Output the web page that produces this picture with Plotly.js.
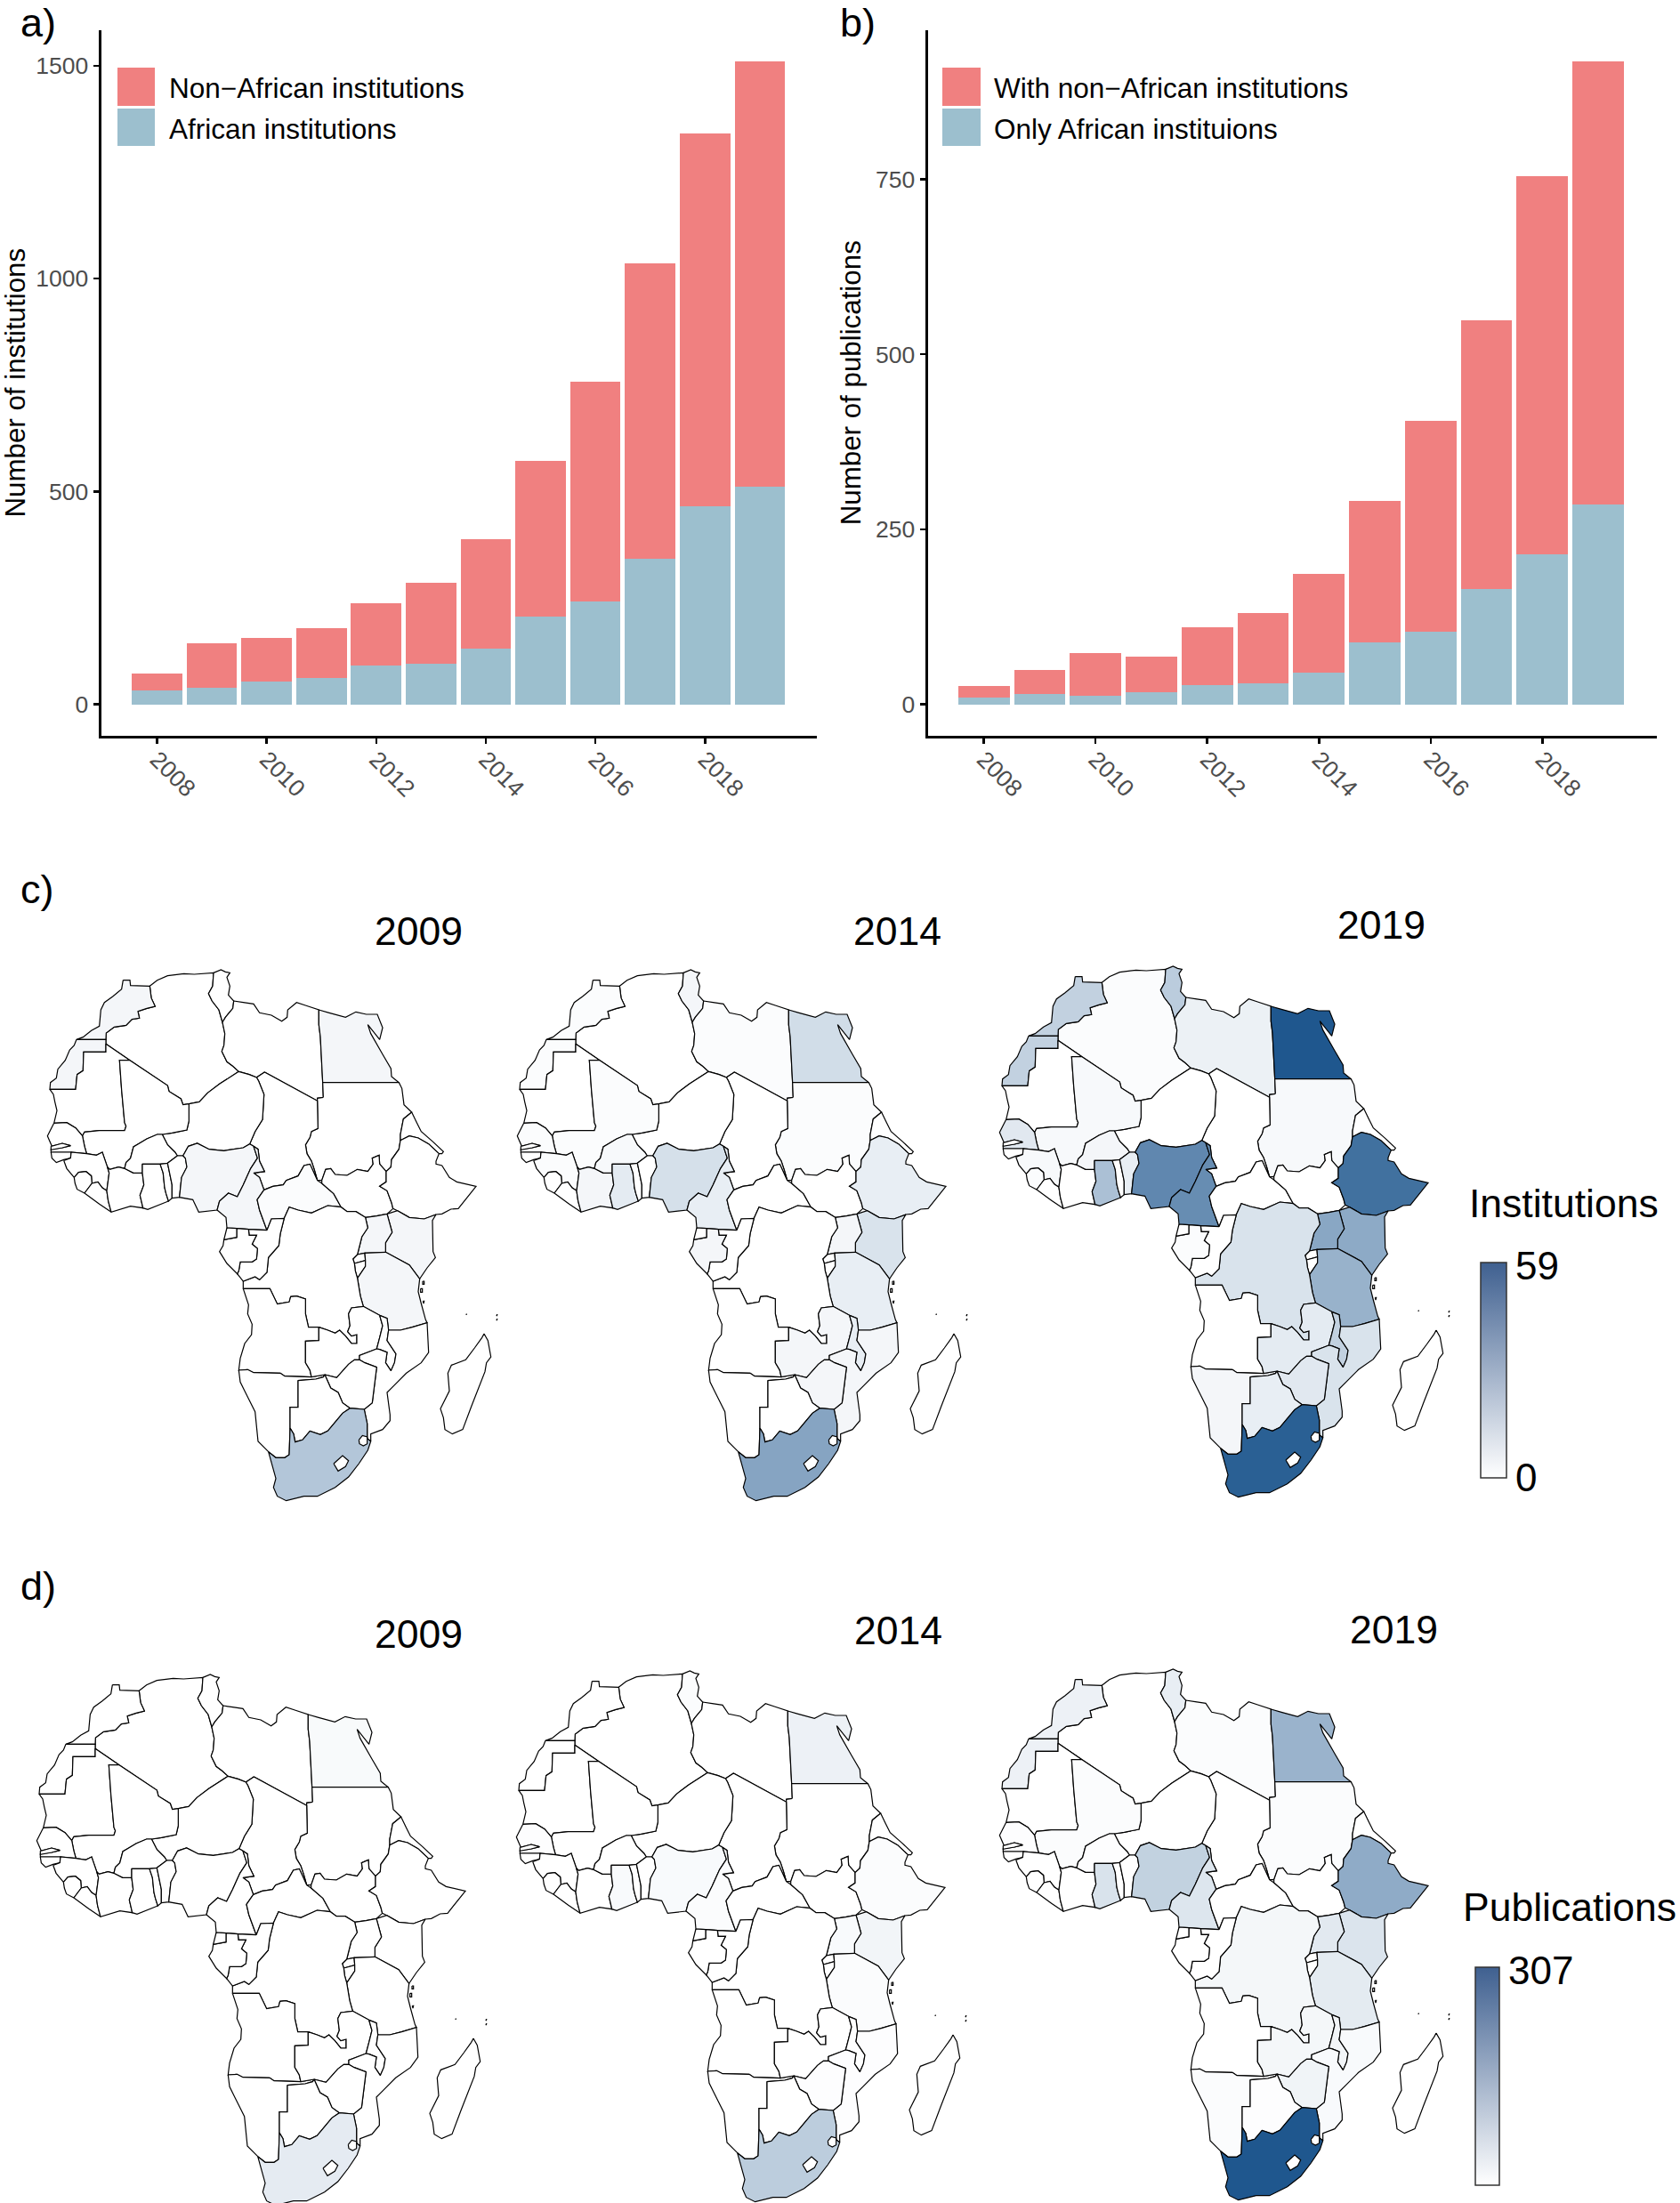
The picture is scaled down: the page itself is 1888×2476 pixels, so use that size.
<!DOCTYPE html>
<html><head><meta charset="utf-8">
<script src="https://cdn.plot.ly/plotly-3.0.1.min.js"></script>
<style>html,body{margin:0;padding:0;background:#fff}</style></head>
<body><div id="chart" style="width:1888px;height:2476px"></div>
<script>
// ---------- bar data ----------
const years = [2008,2009,2010,2011,2012,2013,2014,2015,2016,2017,2018,2019];
const africanInstitutions = [32,40,53,61,91,96,132,206,242,343,466,511];
const nonAfricanInstitutions = [40,103,103,119,146,190,256,366,516,693,875,999];
const onlyAfricanPubs = [10,15,12,17,28,30,46,89,104,165,215,286];
const withNonAfricanPubs = [16,34,61,51,82,100,140,201,301,383,539,632];
const xTickYears = [2008,2010,2012,2014,2016,2018];
const yTicksA = [0,500,1000,1500];
const yTicksB = [0,250,500,750];

// ---------- country values ----------
const inst2009 = {ZAF:20,EGY:3,MAR:3,ESH:3,NGA:3,CMR:3,CAF:1,KEN:3,UGA:3,TZA:3};
const inst2014 = {ZAF:32,EGY:12,NGA:11,KEN:10,TZA:6,ETH:6,CMR:6,GHA:7,MAR:1,ESH:1,LBY:1,SDN:1,TUN:3,CIV:3,UGA:3,GAB:3,MWI:6,ZMB:3,ZWE:3,MOZ:3,SEN:1,BFA:2,MLI:1,GIN:1};
const inst2019 = {EGY:59,ZAF:56,ETH:50,NGA:42,CMR:40,UGA:31,KEN:30,TZA:27,GHA:22,TUN:18,MAR:16,ESH:16,MWI:16,DRC:10,MOZ:10,ZWE:8,SEN:8,ZMB:7,BWA:6,BEN:6,LBY:5,SDN:2,MLI:2,NAM:3,BFA:3,GIN:2,SLE:1,GAB:1,DZA:1};
const pubs2009 = {EGY:10,ZAF:36};
const pubs2014 = {ZAF:92,EGY:25,KEN:18,ETH:6,NGA:9,CMR:6,GHA:9,TZA:6,UGA:9,MOZ:3,ZWE:3,SEN:3,TUN:6};
const pubs2019 = {ZAF:307,ETH:153,EGY:138,NGA:83,GHA:52,KEN:49,CMR:46,UGA:40,TZA:37,TUN:31,MAR:25,ESH:25,ZWE:21,MWI:18,DRC:15,ZMB:15,MOZ:9,LBY:6,SDN:6,NAM:6,MLI:5,BFA:3,BWA:3,SEN:3};
const maxInstitutions = 59, maxPublications = 307;

// ---------- traced country outlines (map grid units) ----------
const outlines = {
DZA:[[385,100],[410,80],[445,65],[500,58],[535,60],[600,55],[597,100],[583,125],[595,150],[618,180],[630,222],[638,260],[635,300],[628,320],[645,355],[665,370],[685,388],[620,430],[580,460],[552,490],[517,497],[497,500],[490,480],[450,455],[445,435],[318,350],[237,295],[237,280],[238,258],[265,238],[305,232],[325,212],[350,208],[345,185],[375,175],[403,168],[390,140]],
MAR:[[295,80],[318,80],[320,98],[385,100],[390,140],[403,168],[375,175],[345,185],[350,208],[325,212],[305,232],[265,238],[238,258],[237,280],[138,280],[160,272],[188,250],[215,235],[220,180],[232,155],[260,135],[290,110]],
ESH:[[138,280],[237,280],[237,322],[162,322],[160,385],[140,398],[135,448],[48,448],[50,425],[70,410],[75,380],[100,350],[115,315],[130,300]],
MRT:[[48,448],[135,448],[140,398],[160,385],[162,322],[237,322],[237,295],[318,350],[283,350],[290,450],[300,560],[305,572],[300,587],[215,587],[165,592],[158,605],[135,578],[105,560],[62,562],[72,520],[65,490],[60,465]],
TUN:[[600,55],[625,45],[640,52],[655,55],[645,70],[655,100],[650,130],[668,150],[665,175],[640,205],[630,222],[618,180],[595,150],[583,125],[597,100]],
LBY:[[668,150],[700,155],[735,160],[755,190],[795,198],[830,218],[848,205],[850,180],[880,155],[910,165],[955,180],[955,230],[960,270],[968,425],[970,475],[950,478],[950,487],[772,390],[745,408],[720,398],[685,388],[665,370],[645,355],[628,320],[635,300],[638,260],[630,222],[640,205],[665,175]],
EGY:[[955,180],[990,190],[1045,205],[1080,187],[1115,195],[1152,195],[1170,240],[1160,280],[1120,230],[1130,260],[1170,330],[1198,378],[1200,405],[1225,425],[968,425],[960,270],[955,230]],
SDN:[[970,475],[968,425],[1225,425],[1235,445],[1242,500],[1268,525],[1240,548],[1230,600],[1230,620],[1225,650],[1200,685],[1198,710],[1182,725],[1160,700],[1158,670],[1135,680],[1138,700],[1120,725],[1085,718],[1050,738],[1010,735],[995,715],[978,718],[965,755],[950,755],[940,720],[930,690],[915,665],[910,635],[925,610],[930,590],[952,580],[950,487],[950,478]],
TCD:[[772,390],[950,487],[952,580],[930,590],[925,610],[910,635],[915,665],[930,690],[940,720],[950,755],[925,700],[905,705],[885,740],[845,755],[835,770],[800,775],[770,787],[755,745],[735,730],[772,725],[755,690],[750,650],[735,640],[722,632],[740,590],[765,550],[770,465],[752,420],[745,408]],
NER:[[685,388],[720,398],[745,408],[752,420],[770,465],[765,550],[740,590],[722,632],[700,645],[635,655],[585,650],[545,630],[515,640],[497,672],[478,672],[470,660],[445,635],[427,600],[460,595],[510,585],[517,555],[517,497],[552,490],[580,460],[620,430]],
MLI:[[318,350],[445,435],[450,455],[490,480],[497,500],[517,497],[517,555],[510,585],[460,595],[427,600],[410,600],[375,615],[350,630],[330,642],[320,680],[305,695],[300,715],[280,710],[250,718],[242,710],[225,660],[205,670],[172,665],[165,640],[158,605],[165,592],[215,587],[300,587],[305,572],[300,560],[290,450],[283,350]],
SEN:[[62,562],[105,560],[135,578],[158,605],[165,640],[172,665],[120,660],[52,660],[52,650],[90,645],[118,638],[90,630],[55,640],[40,605]],
GMB:[[52,640],[90,630],[118,638],[90,645],[52,652]],
GNB:[[52,660],[120,660],[118,680],[95,685],[70,695],[55,680]],
GIN:[[95,688],[118,680],[120,660],[172,665],[205,670],[225,660],[242,710],[248,730],[240,790],[225,780],[210,760],[190,765],[188,740],[170,725],[145,728],[130,745],[105,715]],
SLE:[[130,745],[145,728],[170,725],[188,740],[190,765],[165,798],[140,785],[133,765]],
LBR:[[165,798],[190,765],[210,760],[225,780],[240,790],[245,825],[255,862],[215,835]],
CIV:[[240,790],[248,730],[242,710],[250,718],[280,710],[300,715],[330,730],[360,730],[365,770],[352,805],[362,848],[320,842],[255,862],[245,825]],
BFA:[[300,715],[305,695],[320,680],[330,642],[350,630],[375,615],[410,600],[427,600],[445,635],[470,660],[478,672],[445,697],[420,700],[360,700],[360,730],[330,730]],
GHA:[[360,700],[420,700],[430,730],[435,780],[440,800],[448,825],[378,853],[362,848],[352,805],[365,770],[360,730]],
TGO:[[420,700],[445,697],[460,770],[460,815],[448,825],[440,800],[435,780],[430,730]],
BEN:[[445,697],[478,672],[497,672],[505,680],[510,710],[492,745],[485,812],[460,815],[460,770]],
NGA:[[497,672],[515,640],[545,630],[585,650],[635,655],[700,645],[722,632],[735,640],[748,680],[725,715],[700,770],[680,810],[650,798],[620,825],[612,855],[550,862],[530,820],[485,812],[492,745],[510,710],[505,680]],
CMR:[[735,640],[750,650],[755,690],[772,725],[735,730],[755,745],[770,787],[747,820],[755,855],[780,923],[718,920],[678,917],[645,915],[642,880],[612,855],[620,825],[650,798],[680,810],[700,770],[725,715],[748,680]],
CAF:[[770,787],[800,775],[835,770],[845,755],[885,740],[905,705],[925,700],[950,755],[965,765],[1005,800],[1030,845],[985,840],[930,865],[885,855],[855,845],[838,883],[795,885],[780,923],[755,855],[747,820]],
SSD:[[965,755],[978,718],[995,715],[1010,735],[1050,738],[1085,718],[1120,725],[1138,700],[1135,680],[1158,670],[1160,700],[1182,725],[1182,760],[1160,775],[1185,790],[1200,830],[1205,850],[1185,868],[1150,875],[1112,880],[1080,860],[1050,860],[1030,845],[1005,800],[965,765]],
ERI:[[1268,525],[1285,560],[1300,590],[1340,625],[1375,658],[1370,665],[1360,665],[1325,632],[1290,612],[1260,605],[1230,620],[1230,600],[1240,548]],
ETH:[[1230,620],[1260,605],[1290,612],[1325,632],[1360,665],[1350,690],[1350,700],[1370,705],[1395,745],[1420,760],[1485,775],[1425,850],[1400,852],[1370,868],[1350,870],[1310,885],[1260,880],[1220,857],[1205,850],[1200,830],[1185,790],[1160,775],[1182,760],[1182,725],[1198,710],[1200,685],[1225,650]],
KEN:[[1185,868],[1220,857],[1260,880],[1310,885],[1350,870],[1338,890],[1340,995],[1348,1015],[1320,1050],[1295,1087],[1260,1040],[1180,997],[1180,965],[1202,930]],
UGA:[[1112,880],[1120,915],[1100,945],[1085,1005],[1110,1000],[1180,997],[1180,965],[1202,930],[1185,868],[1150,875]],
RWA:[[1085,1005],[1110,1000],[1112,1025],[1075,1035],[1070,1020]],
BDI:[[1075,1035],[1112,1025],[1112,1045],[1085,1085],[1078,1060]],
TZA:[[1110,1000],[1180,997],[1260,1040],[1295,1087],[1290,1130],[1300,1170],[1315,1225],[1320,1235],[1270,1250],[1230,1260],[1190,1260],[1185,1220],[1160,1210],[1105,1180],[1095,1145],[1085,1085],[1112,1045],[1112,1025]],
DRC:[[838,883],[855,845],[885,855],[930,865],[985,840],[1030,845],[1050,860],[1080,860],[1112,880],[1120,915],[1100,945],[1085,1005],[1070,1020],[1075,1035],[1078,1060],[1085,1085],[1095,1145],[1105,1180],[1065,1185],[1055,1205],[1060,1245],[1052,1265],[1065,1280],[1083,1275],[1083,1305],[1065,1305],[1045,1280],[1025,1260],[1010,1270],[985,1260],[955,1250],[920,1250],[910,1205],[910,1155],[880,1145],[860,1147],[855,1165],[815,1172],[790,1120],[700,1120],[700,1095],[740,1080],[755,1090],[780,1065],[785,1015],[820,975],[825,935]],
COG:[[780,923],[795,885],[838,883],[825,935],[820,975],[785,1015],[780,1065],[755,1090],[740,1080],[700,1095],[680,1070],[685,1060],[690,1030],[710,1030],[730,1030],[745,1020],[748,985],[730,970],[745,940],[720,940],[718,920]],
GAB:[[678,917],[718,920],[720,940],[745,940],[730,970],[748,985],[745,1020],[730,1030],[710,1030],[690,1030],[685,1060],[680,1070],[645,1035],[620,995],[632,975],[635,955],[678,947]],
GNQ:[[645,915],[678,917],[678,947],[635,955]],
AGO:[[700,1120],[790,1120],[815,1172],[855,1165],[860,1147],[880,1145],[910,1155],[910,1205],[920,1250],[955,1250],[955,1295],[910,1297],[910,1370],[925,1395],[930,1418],[840,1415],[825,1405],[735,1403],[715,1393],[685,1395],[690,1355],[705,1305],[728,1275],[730,1240],[715,1205],[718,1175]],
NAM:[[685,1395],[715,1393],[735,1403],[825,1405],[840,1415],[930,1418],[975,1410],[970,1418],[945,1425],[885,1430],[885,1520],[858,1520],[858,1590],[855,1680],[840,1690],[810,1690],[785,1670],[750,1635],[740,1535],[710,1475],[690,1435]],
ZMB:[[955,1250],[985,1260],[1010,1270],[1025,1260],[1045,1280],[1065,1305],[1083,1305],[1083,1275],[1065,1280],[1052,1265],[1060,1245],[1055,1205],[1065,1185],[1105,1180],[1160,1210],[1170,1245],[1160,1285],[1150,1323],[1092,1345],[1092,1360],[1075,1360],[1055,1375],[1015,1420],[975,1410],[930,1418],[925,1395],[910,1370],[910,1297],[955,1295]],
MWI:[[1160,1210],[1185,1220],[1190,1260],[1185,1295],[1215,1340],[1210,1370],[1198,1397],[1180,1370],[1185,1335],[1160,1325],[1150,1323],[1160,1285],[1170,1245]],
MOZ:[[1190,1260],[1230,1260],[1270,1250],[1320,1235],[1325,1335],[1300,1370],[1250,1405],[1205,1450],[1185,1470],[1195,1545],[1195,1565],[1170,1595],[1130,1610],[1130,1635],[1118,1625],[1118,1575],[1108,1527],[1135,1505],[1150,1385],[1110,1370],[1092,1360],[1092,1345],[1150,1323],[1160,1325],[1185,1335],[1180,1370],[1198,1397],[1210,1370],[1215,1340],[1185,1295]],
ZWE:[[1092,1360],[1110,1370],[1150,1385],[1135,1505],[1108,1527],[1060,1523],[1035,1505],[1020,1470],[995,1455],[975,1410],[1015,1420],[1055,1375],[1075,1360]],
BWA:[[885,1430],[945,1425],[970,1418],[975,1410],[995,1455],[1020,1470],[1035,1505],[1060,1523],[1035,1540],[1010,1570],[985,1600],[960,1612],[925,1600],[900,1630],[875,1637],[870,1610],[858,1590],[858,1520],[885,1520]],
ZAF:[[858,1590],[870,1610],[875,1637],[900,1630],[925,1600],[960,1612],[985,1600],[1010,1570],[1035,1540],[1060,1523],[1108,1527],[1118,1575],[1118,1625],[1130,1635],[1120,1665],[1090,1710],[1055,1755],[1010,1790],[950,1820],[905,1820],[845,1835],[815,1820],[802,1790],[810,1760],[785,1670],[810,1690],[840,1690],[855,1680]],
SWZ:[[1090,1630],[1102,1615],[1118,1620],[1118,1643],[1105,1650],[1092,1643]],
LSO:[[1005,1710],[1035,1683],[1055,1700],[1045,1720],[1020,1735]],
MDG:[[1512,1272],[1525,1295],[1535,1350],[1520,1370],[1515,1400],[1470,1515],[1440,1595],[1405,1610],[1380,1595],[1375,1555],[1365,1525],[1395,1465],[1390,1405],[1402,1378],[1450,1360],[1480,1320],[1505,1285]],
PEM:[[1305,1095],[1310,1095],[1310,1105],[1305,1105]],
ZNZ:[[1298,1120],[1304,1120],[1304,1132],[1298,1132]],
MAF:[[1306,1162],[1310,1162],[1308,1170]],
SYC:[[1451,1206],[1453,1206],[1453,1208]],
COM:[[1554,1208],[1556,1208],[1555,1212]],
COM2:[[1554,1223],[1556,1223],[1555,1227]]
};

// ---------- shading ----------
const mapLow = [255,255,255], mapHigh = [31,87,142];
function shade(v, max){
  const f = Math.min(1, v/max);
  const c = mapLow.map((l,i)=>Math.round(l+(mapHigh[i]-l)*f));
  return `rgb(${c[0]},${c[1]},${c[2]})`;
}

const W = 1888, H = 2476;
const data = [];
const layout = {
  width:W, height:H, margin:{l:0,r:0,t:0,b:0}, paper_bgcolor:'#fff', plot_bgcolor:'rgba(0,0,0,0)',
  font:{family:'"Liberation Sans", Arial, sans-serif', color:'#000'},
  showlegend:false, hovermode:false, barmode:'stack', bargap:0.08,
  shapes:[], annotations:[]
};
const px = v => v/W, py = v => 1 - v/H;

// ---------- bar panels ----------
const barRed = '#F08080', barBlue = '#9CBFCE';
function barPanel(n, dom, xr, yr, ticks, title, low, high, standoff){
  const s = n===1?'':String(n);
  data.push({type:'bar',x:years,y:low,marker:{color:barBlue,line:{width:0}},xaxis:'x'+s,yaxis:'y'+s,name:'low'});
  data.push({type:'bar',x:years,y:high,marker:{color:barRed,line:{width:0}},xaxis:'x'+s,yaxis:'y'+s,name:'high'});
  layout['xaxis'+s] = {domain:[px(dom[0]),px(dom[1])],range:xr,anchor:'y'+s,tickmode:'array',tickvals:xTickYears,ticktext:xTickYears.map(String),
    tickangle:45,ticklabelstandoff:-8,tickfont:{size:26.5,color:'#4D4D4D'},ticks:'outside',ticklen:6,tickwidth:2.5,tickcolor:'#000',showline:true,linewidth:3,linecolor:'#000',showgrid:false,zeroline:false,fixedrange:true};
  layout['yaxis'+s] = {domain:[py(826.5),py(34)],range:yr,anchor:'x'+s,tickmode:'array',tickvals:ticks,ticktext:ticks.map(String),
    tickfont:{size:26.5,color:'#4D4D4D'},ticks:'outside',ticklen:6,tickwidth:2.5,tickcolor:'#000',showline:true,linewidth:3,linecolor:'#000',showgrid:false,zeroline:false,fixedrange:true,
    title:{text:title,font:{size:31.3,color:'#000'},standoff}};
}
barPanel(1,[113.5,918],[2006.979,2020.04],[-72.8,1583.5],yTicksA,'Number of institutions',africanInstitutions,nonAfricanInstitutions,8);
barPanel(2,[1042.5,1862],[2006.994,2020.05],[-44.2,962.8],yTicksB,'Number of publications',onlyAfricanPubs,withNonAfricanPubs,8);

function legendRow(x0,x1,tx,y0,y1,color,text){
  layout.shapes.push({type:'rect',xref:'paper',yref:'paper',x0:px(x0),x1:px(x1),y0:py(y1),y1:py(y0),fillcolor:color,line:{width:0}});
  layout.annotations.push({xref:'paper',yref:'paper',x:px(tx),y:py((y0+y1)/2+1.5),xanchor:'left',yanchor:'middle',text,showarrow:false,font:{size:31.5,color:'#000'}});
}
legendRow(132,174,188,76,119,barRed,'Non\u2212African institutions');
legendRow(132,174,188,122,164,barBlue,'African institutions');
legendRow(1059,1102,1115,76,119,barRed,'With non\u2212African institutions');
legendRow(1059,1102,1115,122,164,barBlue,'Only African instituions');

function label(x,y,text,size,anchor){
  layout.annotations.push({xref:'paper',yref:'paper',x:px(x),y:py(y),xanchor:anchor||'center',yanchor:'middle',text,showarrow:false,font:{size,color:'#000'}});
}
label(21,26,'a)',45,'left'); label(942,26,'b)',45,'left'); label(21,1000,'c)',45,'left'); label(21,1782,'d)',45,'left');

// ---------- map panels ----------
const panels = [
 {vals:inst2009,max:maxInstitutions,dx:0,dy:0,title:'2009',tx:470,ty:1047},
 {vals:inst2014,max:maxInstitutions,dx:528,dy:0,title:'2014',tx:1008,ty:1047},
 {vals:inst2019,max:maxInstitutions,dx:1070,dy:-4,title:'2019',tx:1552,ty:1040},
 {vals:pubs2009,max:maxPublications,dx:-12,dy:792,title:'2009',tx:470,ty:1836},
 {vals:pubs2014,max:maxPublications,dx:527,dy:788,title:'2014',tx:1010,ty:1833},
 {vals:pubs2019,max:maxPublications,dx:1070,dy:786,title:'2019',tx:1566,ty:1831}
];
panels.forEach((p,i)=>{
  const n = i+3, s = String(n);
  const L = Math.max(0,40+p.dx), T = 1075+p.dy, R = Math.min(W,L+540), B = Math.min(H,T+630);
  const U = v=>v*3;
  layout['xaxis'+s] = {domain:[px(L),px(R)],range:[U(L-40-p.dx),U(R-40-p.dx)],visible:false,anchor:'y'+s,fixedrange:true};
  layout['yaxis'+s] = {domain:[py(B),py(T)],range:[U(B-1075-p.dy),U(T-1075-p.dy)],visible:false,anchor:'x'+s,fixedrange:true};
  Object.keys(outlines).forEach(code=>{
    const pts = outlines[code];
    const xs = pts.map(q=>q[0]), ys = pts.map(q=>q[1]);
    xs.push(xs[0]); ys.push(ys[0]);
    data.push({type:'scatter',mode:'lines',x:xs,y:ys,fill:'toself',fillcolor:shade(p.vals[code]||0,p.max),
      line:{color:'#000',width:1.2,simplify:false},hoverinfo:'skip',xaxis:'x'+s,yaxis:'y'+s,name:code});
  });
  label(p.tx,p.ty,p.title,44.5);
});

// ---------- colour bars ----------
function colorBar(s,max,x,width,top,bottom){
  data.push({type:'scatter',mode:'markers',x:[-9000,-9000],y:[-9000,-9000],xaxis:'x'+s,yaxis:'y'+s,hoverinfo:'skip',
    marker:{size:1,opacity:0,color:[0,max],cmin:0,cmax:max,colorscale:[[0,'#FFFFFF'],[1,'#3F6090']],showscale:true,
      colorbar:{x:px(x),xanchor:'left',y:py(top),yanchor:'top',lenmode:'pixels',len:bottom-top,thicknessmode:'pixels',thickness:width,
        xpad:0,ypad:0,outlinecolor:'#333',outlinewidth:1.5,borderwidth:0,ticks:'',tickmode:'array',tickvals:[0,max*0.987],ticktext:['0',String(max)],
        tickfont:{size:44,color:'#000'}}}});
}
colorBar('5',maxInstitutions,1664,29,1419,1661);
colorBar('8',maxPublications,1658,27,2211,2456);
label(1649,1353,'Institutions',44.5,'left');
label(1642,2143,'Publications',44.5,'left');

Plotly.newPlot('chart',data,layout,{displayModeBar:false,staticPlot:true});
</script></body></html>
